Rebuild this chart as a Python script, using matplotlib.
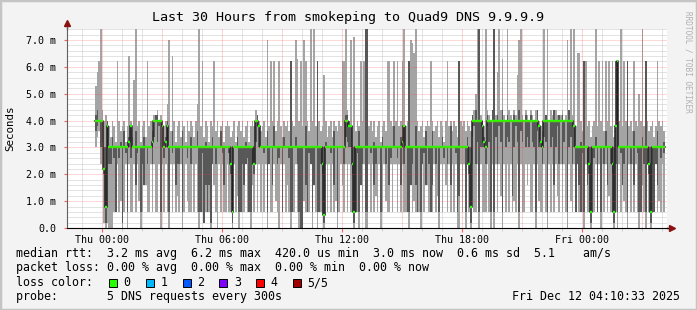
import numpy as np
import matplotlib
matplotlib.use("Agg")
import matplotlib.pyplot as plt
from matplotlib.patches import Rectangle

# smokeping, 5 pings every 300s; values in 1/10 ms, first sample Thu 00:00 - 21 min
first_sample_h = -0.35
step_h = 5 / 60.0

median = np.array([
    40, 40, 40, 40, 40, 22, 8, 38, 30, 30, 30, 30, 30, 30, 30, 30, 30, 30, 30, 30,
    32, 38, 30, 30, 30, 30, 30, 30, 30, 30, 30, 30, 30, 30, 32, 40, 40, 40, 40, 40,
    38, 30, 32, 38, 30, 30, 30, 30, 30, 30, 30, 30, 30, 30, 30, 30, 30, 30, 30, 30,
    30, 30, 30, 30, 30, 30, 30, 30, 30, 30, 30, 30, 30, 30, 30, 30, 30, 30, 30, 30,
    30, 24, 6, 30, 30, 30, 30, 30, 30, 30, 30, 30, 30, 30, 30, 24, 40, 40, 38, 30,
    30, 30, 30, 30, 30, 30, 30, 30, 30, 30, 30, 30, 30, 30, 30, 30, 30, 30, 30, 30,
    30, 30, 30, 30, 30, 30, 30, 30, 30, 30, 30, 30, 30, 30, 30, 30, 24, 5, 30, 30,
    30, 30, 30, 30, 30, 30, 30, 30, 30, 30, 40, 40, 38, 38, 24, 6, 30, 30, 30, 30,
    30, 30, 30, 30, 30, 30, 30, 30, 30, 30, 30, 30, 30, 30, 30, 30, 30, 30, 30, 30,
    30, 30, 30, 30, 32, 38, 30, 30, 30, 30, 30, 30, 30, 30, 30, 30, 30, 30, 30, 30,
    30, 30, 30, 30, 30, 30, 30, 30, 30, 30, 30, 30, 30, 30, 30, 30, 30, 30, 30, 30,
    30, 30, 30, 30, 24, 8, 40, 40, 40, 40, 40, 40, 38, 32, 30, 40, 40, 40, 40, 40,
    40, 40, 40, 40, 40, 40, 40, 40, 40, 40, 40, 40, 40, 40, 40, 40, 40, 40, 40, 40,
    40, 40, 40, 40, 40, 40, 38, 32, 30, 40, 40, 40, 40, 40, 40, 40, 40, 40, 40, 40,
    40, 40, 40, 40, 40, 40, 40, 38, 30, 30, 30, 30, 30, 30, 30, 30, 24, 6, 30, 30,
    30, 30, 30, 30, 30, 30, 30, 30, 30, 30, 24, 6, 38, 62, 30, 30, 30, 30, 30, 30,
    30, 30, 30, 30, 30, 30, 30, 30, 30, 30, 30, 30, 24, 6, 30, 30, 30, 30, 30, 30,
    30, 30,
]) / 10.0

ping5 = np.array([
    53, 58, 62, 74, 44, 40, 42, 40, 38, 34, 40, 38, 32, 62, 40, 36, 38, 40, 32, 38,
    64, 40, 34, 55, 74, 38, 40, 32, 38, 40, 34, 62, 38, 40, 36, 42, 40, 44, 40, 42,
    40, 38, 40, 46, 70, 36, 64, 40, 32, 38, 40, 34, 40, 38, 32, 40, 36, 40, 38, 34,
    40, 46, 74, 38, 62, 34, 40, 38, 32, 40, 38, 62, 36, 40, 34, 38, 40, 32, 38, 40,
    38, 34, 36, 40, 32, 38, 40, 36, 40, 34, 38, 40, 32, 38, 40, 38, 44, 42, 40, 36,
    38, 40, 34, 70, 38, 62, 40, 62, 36, 40, 62, 38, 34, 40, 38, 40, 36, 62, 40, 38,
    70, 63, 40, 62, 38, 70, 62, 40, 36, 74, 40, 74, 38, 62, 40, 36, 38, 57, 40, 34,
    38, 40, 34, 40, 38, 36, 40, 38, 62, 62, 74, 44, 40, 70, 38, 71, 36, 40, 38, 62,
    40, 62, 74, 74, 38, 40, 36, 40, 34, 38, 40, 32, 38, 40, 36, 62, 62, 40, 38, 62,
    40, 62, 38, 40, 62, 74, 38, 40, 62, 70, 69, 65, 74, 40, 36, 38, 40, 34, 38, 40,
    38, 62, 40, 36, 38, 40, 34, 40, 38, 32, 40, 62, 38, 40, 36, 40, 38, 34, 62, 40,
    38, 40, 36, 40, 38, 36, 42, 44, 50, 74, 74, 42, 40, 38, 74, 44, 42, 40, 44, 74,
    42, 58, 74, 44, 63, 42, 40, 74, 44, 42, 40, 44, 42, 57, 70, 74, 42, 40, 44, 42,
    40, 44, 42, 40, 44, 42, 40, 38, 36, 74, 42, 74, 40, 44, 42, 40, 44, 42, 40, 42,
    44, 40, 42, 70, 40, 74, 42, 74, 38, 65, 65, 40, 36, 62, 62, 38, 40, 34, 38, 40,
    74, 38, 62, 40, 62, 36, 62, 40, 62, 38, 62, 34, 62, 62, 40, 74, 38, 62, 40, 62,
    38, 40, 36, 62, 40, 38, 50, 40, 74, 38, 62, 40, 36, 38, 40, 34, 38, 62, 40, 38,
    40, 36,
]) / 10.0

ping4 = np.array([
    42, 44, 40, 40, 40, 30, 30, 40, 30, 30, 34, 30, 30, 30, 30, 32, 30, 36, 30, 30,
    34, 38, 30, 30, 36, 30, 30, 30, 30, 34, 30, 30, 30, 30, 32, 40, 42, 42, 40, 40,
    38, 30, 34, 40, 30, 30, 36, 30, 30, 30, 30, 30, 36, 30, 30, 30, 30, 34, 30, 30,
    30, 36, 30, 30, 30, 30, 32, 30, 30, 30, 34, 30, 30, 30, 30, 36, 30, 30, 30, 30,
    30, 30, 30, 30, 30, 34, 30, 30, 30, 30, 32, 30, 30, 30, 30, 30, 40, 42, 38, 30,
    30, 30, 30, 36, 30, 30, 30, 38, 30, 30, 30, 30, 30, 34, 30, 30, 30, 62, 30, 30,
    34, 30, 30, 30, 30, 30, 38, 30, 30, 30, 30, 30, 30, 62, 30, 30, 30, 30, 32, 30,
    30, 30, 30, 36, 30, 30, 30, 30, 30, 30, 42, 42, 40, 38, 30, 30, 30, 30, 36, 30,
    30, 30, 74, 74, 30, 30, 30, 32, 30, 30, 30, 30, 34, 30, 30, 30, 30, 30, 30, 38,
    30, 30, 30, 34, 34, 38, 30, 30, 62, 30, 30, 30, 38, 30, 30, 30, 30, 30, 36, 30,
    30, 30, 36, 30, 30, 30, 30, 30, 34, 30, 30, 30, 30, 38, 30, 30, 30, 30, 62, 30,
    30, 30, 30, 34, 30, 30, 42, 40, 44, 40, 74, 40, 40, 34, 30, 42, 40, 40, 44, 74,
    40, 42, 40, 40, 44, 40, 40, 42, 40, 40, 40, 42, 40, 40, 44, 40, 40, 40, 42, 40,
    40, 42, 40, 40, 40, 44, 38, 32, 30, 40, 42, 40, 40, 40, 40, 44, 40, 40, 42, 40,
    42, 40, 40, 40, 44, 40, 40, 38, 30, 30, 30, 32, 30, 62, 30, 30, 30, 30, 30, 30,
    34, 30, 30, 30, 30, 30, 36, 30, 30, 30, 30, 30, 62, 62, 30, 30, 30, 30, 30, 62,
    30, 30, 30, 36, 30, 30, 30, 30, 34, 30, 62, 30, 30, 30, 30, 30, 30, 36, 30, 30,
    30, 32,
]) / 10.0

ping2 = np.array([
    36, 38, 40, 30, 32, 20, 2, 30, 24, 24, 30, 26, 6, 30, 26, 30, 2, 30, 28, 6,
    30, 26, 30, 30, 16, 28, 30, 6, 24, 16, 30, 24, 30, 30, 24, 34, 40, 32, 38, 6,
    30, 26, 30, 30, 6, 30, 28, 30, 16, 24, 24, 30, 6, 30, 30, 26, 30, 24, 30, 30,
    30, 30, 6, 6, 28, 2, 16, 6, 16, 2, 24, 30, 24, 30, 30, 30, 28, 16, 30, 30,
    28, 20, 2, 30, 30, 30, 6, 6, 24, 16, 24, 26, 6, 6, 24, 20, 32, 38, 30, 30,
    30, 28, 30, 6, 24, 30, 16, 30, 30, 24, 26, 30, 6, 30, 30, 30, 26, 6, 6, 30,
    30, 24, 6, 0, 0, 30, 16, 6, 28, 24, 6, 16, 30, 6, 6, 24, 20, 2, 30, 30,
    30, 28, 30, 16, 30, 6, 30, 30, 30, 24, 34, 32, 30, 30, 20, 2, 6, 28, 6, 16,
    24, 30, 6, 6, 30, 28, 30, 16, 24, 30, 30, 6, 30, 30, 24, 30, 16, 26, 30, 30,
    30, 26, 30, 16, 30, 24, 30, 6, 6, 16, 24, 30, 16, 6, 30, 6, 24, 28, 16, 30,
    24, 6, 16, 30, 24, 30, 6, 30, 30, 26, 30, 24, 30, 16, 30, 30, 28, 6, 12, 30,
    30, 30, 6, 30, 20, 2, 34, 38, 24, 32, 6, 30, 30, 30, 24, 38, 32, 6, 40, 6,
    34, 24, 38, 32, 6, 40, 30, 34, 32, 40, 12, 30, 38, 32, 6, 36, 32, 40, 30, 34,
    30, 40, 32, 30, 6, 36, 30, 30, 24, 34, 32, 6, 40, 30, 34, 16, 30, 38, 24, 40,
    24, 32, 40, 6, 30, 34, 24, 30, 6, 24, 16, 6, 28, 6, 30, 16, 20, 2, 30, 26,
    30, 6, 30, 6, 30, 24, 30, 16, 30, 24, 20, 2, 24, 6, 30, 28, 16, 24, 30, 6,
    30, 24, 30, 16, 30, 28, 6, 6, 30, 24, 6, 30, 20, 2, 30, 6, 24, 16, 30, 26,
    30, 28,
]) / 10.0

ping1 = np.array([
    30, 34, 36, 24, 30, 2, 0, 2, 0, 0, 0, 6, 6, 24, 6, 10, 0, 6, 24, 0,
    24, 6, 6, 24, 6, 24, 10, 0, 6, 24, 16, 6, 6, 24, 6, 24, 6, 6, 24, 0,
    24, 6, 24, 6, 0, 24, 6, 24, 6, 12, 6, 24, 0, 6, 24, 10, 6, 6, 24, 6,
    24, 6, 0, 24, 6, 24, 6, 10, 6, 0, 24, 16, 6, 0, 24, 6, 24, 6, 6, 24,
    6, 6, 0, 24, 6, 12, 0, 24, 6, 6, 24, 6, 24, 0, 16, 6, 24, 6, 24, 6,
    24, 6, 24, 0, 24, 6, 6, 24, 10, 6, 0, 24, 6, 24, 6, 16, 6, 0, 24, 6,
    24, 6, 0, 24, 6, 10, 6, 24, 6, 24, 0, 16, 6, 0, 24, 6, 6, 0, 24, 6,
    24, 6, 24, 6, 10, 0, 6, 24, 16, 6, 24, 6, 24, 6, 6, 0, 24, 6, 0, 24,
    6, 24, 0, 0, 24, 6, 24, 6, 12, 6, 24, 0, 6, 24, 10, 6, 6, 24, 6, 24,
    24, 6, 24, 6, 24, 6, 6, 24, 0, 24, 6, 10, 6, 24, 6, 0, 24, 6, 24, 16,
    6, 24, 6, 24, 6, 12, 0, 24, 6, 24, 16, 6, 24, 6, 24, 6, 24, 0, 0, 24,
    6, 24, 0, 24, 6, 0, 24, 6, 6, 24, 0, 24, 6, 6, 6, 24, 6, 0, 24, 0,
    24, 6, 24, 12, 0, 24, 6, 24, 6, 24, 6, 10, 6, 24, 0, 24, 6, 6, 24, 16,
    24, 6, 6, 24, 0, 24, 10, 6, 6, 24, 6, 0, 24, 6, 24, 6, 24, 12, 6, 24,
    6, 24, 6, 0, 24, 10, 6, 24, 6, 24, 6, 24, 6, 0, 24, 6, 6, 0, 24, 6,
    24, 6, 24, 0, 24, 6, 24, 6, 12, 6, 6, 0, 6, 0, 24, 6, 24, 10, 6, 0,
    24, 6, 24, 6, 24, 6, 0, 24, 16, 6, 0, 24, 6, 0, 24, 6, 24, 6, 10, 6,
    24, 6,
]) / 10.0

tick_hours = [0, 6, 12, 18, 24]
tick_labels = ["Thu 00:00", "Thu 06:00", "Thu 12:00", "Thu 18:00", "Fri 00:00"]
ytick_vals = [0, 1, 2, 3, 4, 5, 6, 7]
ytick_labels = ["0.0", "1.0 m", "2.0 m", "3.0 m", "4.0 m", "5.0 m", "6.0 m", "7.0 m"]

loss_labels = ["0", "1", "2", "3", "4", "5/5"]
loss_colors = ["#26ff00", "#00b8ff", "#0059ff", "#7e00ff", "#ff0000", "#a10000"]

title = "Last 30 Hours from smokeping to Quad9 DNS 9.9.9.9"
line_rtt = "median rtt:  3.2 ms avg  6.2 ms max  420.0 us min  3.0 ms now  0.6 ms sd  5.1    am/s"
line_loss = "packet loss: 0.00 % avg  0.00 % max  0.00 % min  0.00 % now"
line_probe = "probe:       5 DNS requests every 300s"
stamp = "Fri Dec 12 04:10:33 2025"

# keep the pings ordered around the median
ping2 = np.minimum(ping2, median)
ping1 = np.minimum(ping1, ping2)
ping4 = np.maximum(ping4, median)
ping5 = np.maximum(ping5, ping4)

W, H = 697, 310
mono = "DejaVu Sans Mono"
fig = plt.figure(figsize=(W / 100, H / 100), dpi=100, facecolor="#f3f3f3")
ax = fig.add_axes([67 / W, 82 / H, 600 / W, 199.3 / H])
ax.set_facecolor("white")
ax.set_xlim(-1.75, 28.25)
ax.set_ylim(0, 7.42)

t = first_sample_h + np.arange(len(median)) * step_h

# grid: minor grey below the smoke, major red dotted on top
dot = (0, (1, 1))
for h in range(-1, 29):
    if h % 3 == 0:
        ax.axvline(h, color="#ff4040", lw=0.72, ls=dot, alpha=0.45, zorder=5)
    else:
        ax.axvline(h, color="#c8c8c8", lw=0.72, ls=dot, zorder=0.5)
for v in np.arange(1, 38) * 0.2:
    if abs(v - round(v)) < 1e-6:
        ax.axhline(v, color="#ff4040", lw=0.72, ls=dot, alpha=0.4, zorder=5)
    else:
        ax.axhline(v, color="#c8c8c8", lw=0.72, ls=dot, zorder=0.5)

# smoke
ax.bar(t, ping5 - ping1, bottom=ping1, width=step_h, align="edge",
       color="#a4a4a4", linewidth=0, antialiased=False, zorder=1)
ax.bar(t, ping4 - ping2, bottom=ping2, width=step_h, align="edge",
       color="#585858", linewidth=0, antialiased=False, zorder=2)

# median
edges = np.append(t, t[-1] + step_h)
ax.step(edges, np.append(median, median[-1]), where="post", color="#202020", lw=1.1, zorder=3)
ax.hlines(median, t, t + step_h, colors=loss_colors[0], lw=1.7, zorder=4)

# axes
for s in ["top", "right"]:
    ax.spines[s].set_visible(False)
ax.spines["left"].set_color("#606060")
ax.spines["bottom"].set_color("black")
ax.spines["left"].set_zorder(6)
ax.spines["bottom"].set_zorder(6)
ax.plot([0, 0], [1, 1.025], color="#606060", lw=1, transform=ax.transAxes, clip_on=False)
ax.plot([1, 1.008], [0, 0], color="black", lw=1, transform=ax.transAxes, clip_on=False)
ax.plot([0], [1.027], marker="^", ms=5, color="#8b1010", transform=ax.transAxes, clip_on=False)
ax.plot([1.009], [0], marker=">", ms=5, color="#8b1010", transform=ax.transAxes, clip_on=False)

ax.set_xticks(tick_hours)
ax.set_xticklabels(tick_labels, fontsize=7.2, family=mono)
ax.set_xticks(range(-1, 29), minor=True)
ax.tick_params(axis="x", which="major", length=3, color="#ff6060", pad=2)
ax.tick_params(axis="x", which="minor", length=2, color="#c8c8c8")
ax.set_yticks(ytick_vals)
ax.set_yticklabels(ytick_labels, fontsize=7.2, family=mono)
ax.tick_params(axis="y", which="major", length=2, color="#ff6060", pad=6)

# texts
fig.text(0.5, 1 - 18 / H, title, ha="center", va="center", fontsize=9.6, family=mono)
fig.text(10 / W, 1 - 128 / H, "Seconds", rotation=90, ha="center", va="center",
         fontsize=7.8, family=mono)
fig.text(688 / W, 1 - 62 / H, "RRDTOOL / TOBI OETIKER", rotation=270, ha="center",
         va="center", fontsize=5.6, family=mono, color="#b0b0b0")

fs = 8.4
fig.text(16.4 / W, 1 - 254 / H, line_rtt, ha="left", va="center", fontsize=fs, family=mono)
fig.text(16.4 / W, 1 - 268 / H, line_loss, ha="left", va="center", fontsize=fs, family=mono)
fig.text(16.4 / W, 1 - 282.5 / H, "loss color:", ha="left", va="center", fontsize=fs, family=mono)
for i, (lab, col) in enumerate(zip(loss_labels, loss_colors)):
    bx = 109 + 36.8 * i
    fig.patches.append(Rectangle((bx / W, 1 - 287 / H), 8 / W, 8 / H, transform=fig.transFigure,
                                 facecolor=col, edgecolor="black", lw=0.7))
    fig.text((bx + 14.5) / W, 1 - 282.5 / H, lab, ha="left", va="center", fontsize=fs, family=mono)
fig.text(16.4 / W, 1 - 296.5 / H, line_probe, ha="left", va="center", fontsize=fs, family=mono)
fig.text(680 / W, 1 - 296.5 / H, stamp, ha="right", va="center", fontsize=fs, family=mono)

# frame
fig.patches.append(Rectangle((0, 0), 1, 1, transform=fig.transFigure, fill=False,
                             edgecolor="#c4c4c4", lw=2.5))

fig.savefig("out.png", dpi=100, facecolor=fig.get_facecolor())
